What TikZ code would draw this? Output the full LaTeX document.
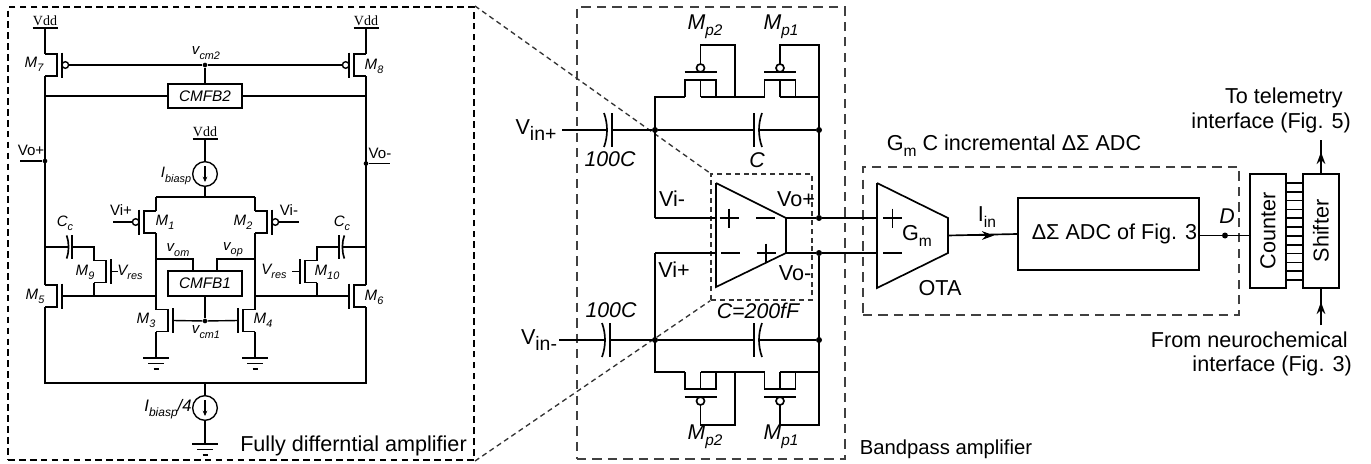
\documentclass[tikz,border=0pt]{standalone}
\usepackage{fontspec}
\usepackage{tikz}
\usetikzlibrary{arrows.meta}
\setmainfont{Liberation Sans}
\newfontfamily\vddfont{Liberation Serif}
\newcommand{\lowsub}[1]{\raisebox{-.28em}{\scalebox{.72}{#1}}}
\newcommand{\insub}[1]{\raisebox{-.3em}{\scalebox{.9}{#1}}}

\begin{document}
\begin{tikzpicture}[x=.75pt, y=-.75pt,
    wire/.style = {line width=1.05pt},
    wirem/.style = {line width=1.25pt},
    dot/.style = {circle, fill, inner sep=0pt, minimum size=4.5pt},
    mainbox/.style = {draw, line width=1.25pt, inner sep=0pt},
    cursrc/.style = {draw, circle, line width=1.05pt, inner sep=0pt, minimum size=18.5pt},
    txtbig/.style = {inner sep=0pt, font=\fontsize{16.2}{19}\selectfont},
    txtsmall/.style = {inner sep=0pt, font=\fontsize{11.3}{13}\selectfont},
    italbig/.style = {inner sep=0pt, font=\fontsize{16}{19}\selectfont\itshape},
    italsmall/.style = {inner sep=0pt, font=\fontsize{11.3}{13}\selectfont\itshape},
    bigdash/.style = {line width=1.5pt, dash pattern=on 5pt off 3.2pt},
    greydash/.style = {line width=1.2pt, black!75, dash pattern=on 7pt off 4.6pt},
    fine/.style = {line width=1pt, black!80, dash pattern=on 3.8pt off 2.8pt},
    pics/nmosfet/.style = {code = {
        \draw[wire] (0,-11) -- (12,-11) -- (12,11) -- (0,11);
        \draw[wire] (17,-12.5) -- (17,12.5);
        \coordinate (-a) at (0,-11);
        \coordinate (-b) at (0,11);
        \coordinate (-g) at (17,0);
    }},
    pics/pmosfet/.style = {code = {
        \draw[wire] (0,-11) -- (12,-11) -- (12,11) -- (0,11);
        \draw[wire] (17,-12.5) -- (17,12.5);
        \draw[wire] (20.3,0) circle[radius=3.3];
        \coordinate (-a) at (0,-11);
        \coordinate (-b) at (0,11);
        \coordinate (-g) at (23.6,0);
    }},
    pics/fbmos/.style = {code = {
        \draw[wirem] (-15.5,0) -- (-15.5,-17) -- (15.5,-17) -- (15.5,0);
        \draw[wirem] (0,-17) -- (0,0);
        \draw[wirem] (-16,-25) -- (16,-25);
        \draw[wirem] (0,-29) circle[radius=4];
        \coordinate (-l) at (-15.5,0);
        \coordinate (-c) at (0,0);
        \coordinate (-r) at (15.5,0);
        \coordinate (-g) at (0,-33);
    }},
    pics/capac/.style = {code = {
        \draw[wirem] (0,-17) -- (0,17);
        \draw[wirem] (-8,-17) .. controls (-4,-6) and (-4,6) .. (-8,17);
        \coordinate (-l) at (-5,0);
        \coordinate (-r) at (0,0);
    }},
    pics/gndsym/.style = {code = {
        \draw[wire] (-13,0) -- (13,0);
        \draw[wire] (-8,5.5) -- (8,5.5);
        \draw[wire] (-2.5,11) -- (2.5,11);
        \coordinate (-o) at (0,0);
    }},
    pics/vddrail/.style = {code = {
        \draw[wire] (-12.5,0) -- (12.5,0);
        \coordinate (-o) at (0,0);
        \node[inner sep=0pt, font=\fontsize{10.5}{12}\vddfont] (-t) at (0,-7.5) {Vdd};
    }},
    pics/plussign/.style = {code = {
        \draw[wire] (-9.5,0) -- (9.5,0);
        \draw[wire] (0,-9.5) -- (0,9.5);
    }},
    pics/minussign/.style = {code = {
        \draw[wire] (-9.5,0) -- (9.5,0);
    }}]
                    \useasboundingbox (0,0) rectangle (1371,464);

                    \node[draw, bigdash, minimum width=349.5pt, minimum height=339.75pt, inner sep=0pt] (fullbox) at (241,233.5) {};
                    \node[draw, greydash, minimum width=201pt, minimum height=339pt, inner sep=0pt] (bandbox) at (711,233) {};
                    \node[draw, greydash, minimum width=282pt, minimum height=111pt, inner sep=0pt] (adcbox) at (1051,241) {};
                    \node[draw, fine, minimum width=75.75pt, minimum height=94.5pt, inner sep=0pt] (ampbox) at (761.5,237) {};
                    \draw[fine] (fullbox.north east) to (ampbox.north west);
                    \draw[fine] (fullbox.south east) to (ampbox.south west);

                    \pic (vdd7) at (45,28) {vddrail};
                    \pic (vdd8) at (366,28) {vddrail};
                    \pic (vddc) at (205,139) {vddrail};
                    \pic (m7) at (45,65) {pmosfet};
                    \pic[xscale=-1] (m8) at (366,65) {pmosfet};
                    \pic[xscale=-1] (m1) at (156,222) {pmosfet};
                    \pic (m2) at (255,222) {pmosfet};
                    \pic (m3) at (156,320.5) {nmosfet};
                    \pic[xscale=-1] (m4) at (255,320.5) {nmosfet};
                    \pic (m5) at (45,296) {nmosfet};
                    \pic[xscale=-1] (m6) at (366,296) {nmosfet};
                    \pic (m9) at (94,271.5) {nmosfet};
                    \pic[xscale=-1] (m10) at (317,271.5) {nmosfet};
                    \pic[scale=.68] (cc1) at (72,247) {capac};
                    \pic[scale=.68, xscale=-1] (cc2) at (339,247) {capac};
                    \pic (gnd3) at (156,358) {gndsym};
                    \pic (gnd4) at (255,358) {gndsym};
                    \pic (gnd5) at (205,444) {gndsym};

                    \node[mainbox, minimum width=55.5pt, minimum height=18pt, font=\fontsize{11.5}{13}\selectfont\itshape] (cmfb2) at (205,96) {CMFB2};
                    \node[mainbox, minimum width=55.5pt, minimum height=18.75pt, font=\fontsize{11.5}{13}\selectfont\itshape] (cmfb1) at (205,283.5) {CMFB1};
                    \node[cursrc] (ib) at (205,174) {};
                    \node[cursrc] (ib4) at (205,408) {};
                    \node[dot, minimum size=3.5pt] (vcm2dot) at (205,65) {};
                    \node[dot, minimum size=3.5pt] (vcm1dot) at (205,321) {};
                    \node[dot, minimum size=3.5pt] (voplus) at (45,161) {};
                    \node[dot, minimum size=3.5pt] (vominus) at (366,163.5) {};

                    \coordinate (bot5) at (45,383);
                    \coordinate (bot6) at (366,383);
                    \coordinate (botc) at (205,383);
                    \coordinate (j7) at (45,96);
                    \coordinate (j8) at (366,96);
                    \coordinate (tailc) at (205,197);
                    \coordinate (taill) at (156,197);
                    \coordinate (tailr) at (255,197);
                    \coordinate (vomj) at (156,259);
                    \coordinate (vomc) at (193,271);
                    \coordinate (vopj) at (255,259);
                    \coordinate (vopc) at (217,271);
                    \coordinate (j5) at (156,296);
                    \coordinate (j6) at (255,296);
                    \coordinate (j9) at (94,296);
                    \coordinate (j10) at (317,296);
                    \coordinate (cc1a) at (45,247);
                    \coordinate (cc1b) at (94,247);
                    \coordinate (cc2a) at (366,247);
                    \coordinate (cc2b) at (317,247);
                    \coordinate (m9v) at (118,271.5);
                    \coordinate (m10v) at (292,271.5);
                    \coordinate (vipl) at (113,222);
                    \coordinate (viml) at (299,222);
                    \coordinate (vopl) at (20,161);
                    \coordinate (voml) at (390,163.5);
                    \coordinate (ibt) at (205,166);
                    \coordinate (ibb) at (205,182);
                    \coordinate (ib4t) at (205,400);
                    \coordinate (ib4b) at (205,416);

                    \draw[wire] (vdd7-o) to (m7-a);
                    \draw[wire] (m7-b) to (m5-a);
                    \draw[wire] (m5-b) to (bot5) to (bot6) to (m6-b);
                    \draw[wire] (m6-a) to (m8-b);
                    \draw[wire] (m8-a) to (vdd8-o);
                    \draw[wire] (m7-g) to (vcm2dot) to (m8-g);
                    \draw[wire] (vcm2dot) to (cmfb2.north);
                    \draw[wirem] (j7) to (cmfb2.west);
                    \draw[wirem] (cmfb2.east) to (j8);
                    \draw[wirem] (vopl) to (voplus);
                    \draw[wirem] (vominus) to (voml);
                    \draw[wire] (vddc-o) to (ib.north);
                    \draw[wire] (ib.south) to (tailc);
                    \draw[line width=1.5pt] (taill) to (tailr);
                    \draw[wire] (taill) to (m1-a);
                    \draw[wire] (tailr) to (m2-a);
                    \draw[wire] (m1-b) to (m3-a);
                    \draw[wire] (m2-b) to (m4-a);
                    \draw[wire] (m3-b) to (gnd3-o);
                    \draw[wire] (m4-b) to (gnd4-o);
                    \draw[wire] (m1-g) to (vipl);
                    \draw[wire] (m2-g) to (viml);
                    \draw[wire] (vomj) -| (vomc);
                    \draw[wire] (vopj) -| (vopc);
                    \draw[wire] (cmfb1.south) to (vcm1dot);
                    \draw[wire] (m3-g) to (vcm1dot) to (m4-g);
                    \draw[wire] (m5-g) to (j5);
                    \draw[wire] (j6) to (m6-g);
                    \draw[wire] (m9-b) to (j9);
                    \draw[wire] (m10-b) to (j10);
                    \draw[wire] (cc1a) to (cc1-l);
                    \draw[wire] (cc1-r) to (cc1b) to (m9-a);
                    \draw[wire] (cc2a) to (cc2-l);
                    \draw[wire] (cc2-r) to (cc2b) to (m10-a);
                    \draw[wire] (m9-g) to (m9v);
                    \draw[wire] (m10-g) to (m10v);
                    \draw[wire] (botc) to (ib4.north);
                    \draw[wire] (ib4.south) to (gnd5-o);
                    \draw[wire, -{Stealth[length=4pt, width=3.5pt]}] (ibt) to (ibb);
                    \draw[wire, -{Stealth[length=4pt, width=3.5pt]}] (ib4t) to (ib4b);

                    \node[italsmall] (lm7) at (34,64) {M\lowsub{7}};
                    \node[italsmall] (lm8) at (374,66) {M\lowsub{8}};
                    \node[italsmall] (lm1) at (165,222) {M\lowsub{1}};
                    \node[italsmall] (lm2) at (243,222) {M\lowsub{2}};
                    \node[italsmall] (lm3) at (146,320) {M\lowsub{3}};
                    \node[italsmall] (lm4) at (263,320) {M\lowsub{4}};
                    \node[italsmall] (lm5) at (35,296) {M\lowsub{5}};
                    \node[italsmall] (lm6) at (374,297) {M\lowsub{6}};
                    \node[italsmall] (lm9) at (85,272) {M\lowsub{9}};
                    \node[italsmall] (lm10) at (327,272) {M\lowsub{10}};
                    \node[italsmall] (lvcm2) at (206,53) {v\lowsub{cm2}};
                    \node[italsmall] (lvcm1) at (206,332) {v\lowsub{cm1}};
                    \node[italsmall] (lvom) at (178,250) {v\lowsub{om}};
                    \node[italsmall] (lvop) at (233,250) {v\lowsub{op}};
                    \node[italsmall] (lres1) at (130,272) {V\lowsub{res}};
                    \node[italsmall] (lres2) at (274,271) {V\lowsub{res}};
                    \node[italsmall] (lcc1) at (65,223) {C\lowsub{c}};
                    \node[italsmall] (lcc2) at (342,223) {C\lowsub{c}};
                    \node[italsmall] (lbias) at (176,176) {I\lowsub{biasp}};
                    \node[italsmall, font=\fontsize{12.5}{14}\selectfont\itshape] (lbias4) at (168,409) {I\lowsub{biasp}/4};
                    \node[txtsmall] (lvoplus) at (31,150) {Vo+};
                    \node[txtsmall] (lvominus) at (380,153) {Vo-};
                    \node[txtsmall] (lviplus) at (121,210) {Vi+};
                    \node[txtsmall] (lviminus) at (289,210) {Vi-};
                    \node[txtbig] (lfull) at (353.5,446) {Fully differntial amplifier};

                    \pic (cin1) at (612,130) {capac};
                    \pic[xscale=-1] (cfb1) at (754,130) {capac};
                    \pic (cin2) at (610,340) {capac};
                    \pic[xscale=-1] (cfb2) at (754,340) {capac};
                    \pic (mp2t) at (700.5,97) {fbmos};
                    \pic (mp1t) at (780,97) {fbmos};
                    \pic[yscale=-1] (mp2b) at (700.5,372) {fbmos};
                    \pic[yscale=-1] (mp1b) at (780,372) {fbmos};

                    \node[dot] (nvip) at (655,130) {};
                    \node[dot] (nvop) at (819,130) {};
                    \node[dot] (nvim) at (655,340) {};
                    \node[dot] (nvom) at (819,340) {};
                    \node[dot] (nop) at (819,218) {};
                    \node[dot] (nom) at (819,253) {};

                    \coordinate (vinp) at (562,130);
                    \coordinate (vinm) at (559,340);
                    \coordinate (ntl) at (655,97);
                    \coordinate (ntr) at (819,97);
                    \coordinate (nbl) at (655,372);
                    \coordinate (nbr) at (819,372);
                    \coordinate (fb2t) at (735,45);
                    \coordinate (j2t) at (735,97);
                    \coordinate (fb1t) at (819,45);
                    \coordinate (fb2b) at (735,425);
                    \coordinate (j2b) at (735,372);
                    \coordinate (fb1b) at (819,425);
                    \coordinate (inp) at (655,218);
                    \coordinate (inm) at (655,253);
                    \coordinate (ampa) at (716,183);
                    \coordinate (ampb) at (786,218);
                    \coordinate (ampc) at (786,253);
                    \coordinate (ampd) at (716,287);
                    \coordinate (ampi1) at (716,218);
                    \coordinate (ampi2) at (716,253);
                    \coordinate (otaa) at (877,183);
                    \coordinate (otab) at (948,218);
                    \coordinate (otac) at (948,253);
                    \coordinate (otad) at (877,288);
                    \coordinate (otai1) at (877,218);
                    \coordinate (otai2) at (877,253);
                    \coordinate (otao) at (948,235.5);
                    \coordinate (iintip) at (994,235.5);

                    \draw[wirem] (vinp) to (cin1-l);
                    \draw[wirem] (cin1-r) to (nvip) to (cfb1-r);
                    \draw[wirem] (cfb1-l) to (nvop);
                    \draw[wirem] (vinm) to (cin2-l);
                    \draw[wirem] (cin2-r) to (nvim) to (cfb2-r);
                    \draw[wirem] (cfb2-l) to (nvom);
                    \draw[wirem] (inp) to (ntl) to (mp2t-l);
                    \draw[wirem] (mp2t-c) to (mp1t-l);
                    \draw[wirem] (mp1t-c) to (ntr);
                    \draw[wirem] (mp2t-g) |- (fb2t) to (j2t);
                    \draw[wirem] (mp1t-g) |- (fb1t) to (nop);
                    \draw[wirem] (inm) to (nbl) to (mp2b-l);
                    \draw[wirem] (mp2b-c) to (mp1b-l);
                    \draw[wirem] (mp1b-c) to (nbr);
                    \draw[wirem] (mp2b-g) |- (fb2b) to (j2b);
                    \draw[wirem] (mp1b-g) |- (fb1b) to (nom);
                    \draw[wirem] (inp) to (ampi1);
                    \draw[wirem] (inm) to (ampi2);
                    \draw[wirem] (ampa) to (ampb) to (ampc) to (ampd) to (ampa);
                    \draw[wirem] (ampb) to (nop) to (otai1);
                    \draw[wirem] (ampc) to (nom) to (otai2);
                    \draw[wirem] (otaa) to (otab) to (otac) to (otad) to (otaa);
                    \pic at (729,218) {plussign};
                    \pic at (765.5,218) {minussign};
                    \pic at (730.5,253) {minussign};
                    \pic at (766,253) {plussign};
                    \pic at (892.5,218) {plussign};
                    \pic at (892.5,253) {minussign};

                    \node[mainbox, minimum width=135.75pt, minimum height=54pt, font=\fontsize{16.2}{19}\selectfont] (adc) at (1108.5,234) {\hspace*{9pt}ΔΣ ADC of Fig. 3};
                    \node[mainbox, minimum width=27pt, minimum height=85.5pt, font=\fontsize{16.2}{19}\selectfont] (cnt) at (1268,231) {\rotatebox{90}{Counter}};
                    \node[mainbox, minimum width=27pt, minimum height=85.5pt, font=\fontsize{16.2}{19}\selectfont] (shf) at (1321,231) {\rotatebox{90}{Shifter}};
                    \node[dot] (ddot) at (1225,235.5) {};
                    \coordinate (adco) at (1199,235.5);
                    \coordinate (cnti) at (1250,235.5);
                    \coordinate (topend) at (1321,140);
                    \coordinate (toptip) at (1321,152);
                    \coordinate (botend) at (1321,325);
                    \coordinate (bottip) at (1321,302);

                    \draw[wirem] (otao) to (adc.west);
                    \draw[wirem, -{Stealth[length=9pt, width=6.5pt]}] (otao) to (iintip);
                    \draw[wirem] (adco) to (ddot) to (cnti);
                    \draw[wirem] (shf.north) to (topend);
                    \draw[wirem, -{Stealth[length=9pt, width=6.5pt]}] (shf.north) to (toptip);
                    \draw[wirem] (botend) to (shf.south);
                    \draw[wirem, -{Stealth[length=9pt, width=6.5pt]}] (botend) to (bottip);
                    \foreach \k [evaluate=\k as \busy using 183+\k*8.82] in {0,...,11}
                        \draw[wirem] (cnt.east |- 0,\busy) to (shf.west |- 0,\busy);

                    \node[txtbig] (lvinp) at (536,130) {V\insub{in+}};
                    \node[txtbig] (lvinm) at (539,340) {V\insub{in-}};
                    \node[italbig] (lc100a) at (610,159) {100C};
                    \node[italbig] (lc100b) at (611,310) {100C};
                    \node[italbig] (lcfb) at (757,160) {C};
                    \node[italbig] (lc200) at (758,311) {C=200fF};
                    \node[italbig] (lmp2t) at (705,27) {M\lowsub{p2}};
                    \node[italbig] (lmp1t) at (781,27) {M\lowsub{p1}};
                    \node[italbig] (lmp2b) at (705,437) {M\lowsub{p2}};
                    \node[italbig] (lmp1b) at (781,437) {M\lowsub{p1}};
                    \node[txtbig] (lvim) at (672,199) {Vi-};
                    \node[txtbig] (lvip) at (674,270) {Vi+};
                    \node[txtbig] (lvo1) at (796,199) {Vo+};
                    \node[txtbig] (lvo2) at (795,273) {Vo-};
                    \node[txtbig] (lgm) at (917,236) {G\lowsub{m}};
                    \node[txtbig] (lota) at (940,288) {OTA};
                    \node[txtbig] (liin) at (987,217) {I\lowsub{in}};
                    \node[italbig] (ld) at (1227,216) {D};
                    \node[txtbig] (ltitle) at (1014,146) {G\lowsub{m} C incremental ΔΣ ADC};
                    \node[txtbig, font=\fontsize{15.2}{18}\selectfont] (lband) at (946,449.5) {Bandpass amplifier};
                    \node[txtbig, anchor=east] (lto1) at (1343,98) {To telemetry};
                    \node[txtbig, anchor=east] (lto2) at (1351,123) {interface (Fig. 5)};
                    \node[txtbig, anchor=east] (lfrom1) at (1348,340) {From neurochemical};
                    \node[txtbig, anchor=east] (lfrom2) at (1352,366) {interface (Fig. 3)};
                \end{tikzpicture}
\end{document}
